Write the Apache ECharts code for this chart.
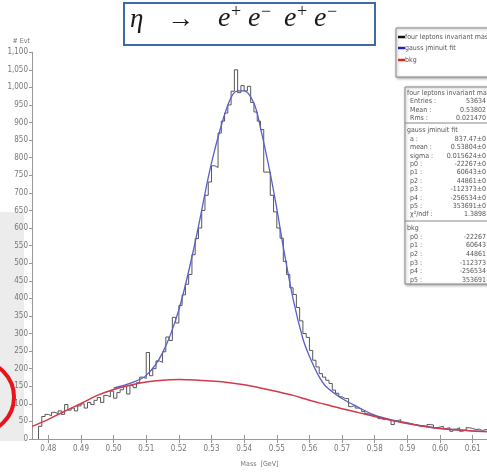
<!DOCTYPE html>
<html>
<head>
<meta charset="utf-8">
<script src="https://cdn.jsdelivr.net/npm/echarts@6/dist/echarts.min.js"></script>
<style>
  html, body { margin: 0; padding: 0; background: #fff; }
  #chart { width: 487px; height: 473px; }
</style>
</head>
<body>
<div id="chart"></div>
<script>
// Four-lepton invariant mass histogram (1 MeV bins) with gauss+pol5 fit and pol5 background
const binStart = 0.477;
const binWidth = 0.001;
const counts = [
  36, 64, 70, 66, 76, 72, 80, 70, 98, 82,
  88, 80, 94, 100, 88, 104, 98, 110, 118, 104,
  124, 120, 136, 116, 132, 140, 150, 128, 152, 146,
  160, 176, 172, 246, 180, 200, 222, 218, 248, 290,
  280, 346, 330, 380, 410, 440, 468, 524, 570, 600,
  650, 693, 731, 777, 772, 870, 904, 927, 950, 989,
  1050, 985, 1005, 990, 1003, 957, 930, 904, 880, 759,
  759, 693, 646, 600, 571, 505, 468, 430, 411, 374,
  336, 300, 289, 252, 224, 205, 186, 176, 167, 158,
  139, 130, 120, 115, 115, 92, 96, 88, 85, 78,
  72, 69, 66, 64, 58, 55, 56, 54, 41, 52,
  55, 48, 46, 44, 41, 40, 36, 38, 34, 41,
  40, 32, 34, 36, 30, 32, 22, 28, 32, 22,
  26, 32, 30, 27, 28, 24, 27, 26
];

// Signal + background fit curve
const fitMass = [0.500, 0.505, 0.510, 0.515, 0.520, 0.525, 0.530, 0.535, 0.538, 0.540,
                 0.543, 0.545, 0.548, 0.550, 0.552, 0.555, 0.558, 0.560, 0.5625, 0.565,
                 0.570, 0.575, 0.580, 0.585, 0.590, 0.595, 0.600, 0.605, 0.610, 0.615];
const fitValues = [145, 158, 181, 245, 368, 560, 785, 950, 990, 990,
                   955, 885, 755, 655, 545, 398, 285, 235, 185, 150,
                   115, 90, 68, 55, 45, 37, 30, 26, 23, 21];

// Background-only curve
const bkgMass = [0.475, 0.480, 0.485, 0.490, 0.495, 0.500, 0.505, 0.510, 0.515, 0.520,
                 0.525, 0.530, 0.535, 0.540, 0.545, 0.550, 0.555, 0.560, 0.565, 0.570,
                 0.575, 0.580, 0.585, 0.590, 0.595, 0.600, 0.605, 0.610, 0.615];
const bkgValues = [36, 56, 79, 101, 124, 141, 153, 162, 167, 169,
                   168, 165, 161, 154, 145, 135, 124, 110, 98, 86,
                   75, 64, 53, 44, 36, 30, 26, 23, 21];

const xTicks = [0.48, 0.49, 0.50, 0.51, 0.52, 0.53, 0.54, 0.55, 0.56, 0.57, 0.58, 0.59, 0.60, 0.61];

const histData = [[binStart, 0]];
counts.forEach((c, i) => histData.push([binStart + i * binWidth, c]));
histData.push([binStart + counts.length * binWidth, counts[counts.length - 1]]);

const axisFont = "'Liberation Sans Narrow', 'DejaVu Sans Condensed', 'Liberation Sans', sans-serif";
const labelStyle = { color: '#777', fontSize: 8, fontFamily: axisFont };

const chart = echarts.init(document.getElementById('chart'), null, { renderer: 'canvas' });

const statRows = [
  ['Entries :', '53634'], ['Mean :', '0.53802'], ['Rms :', '0.021470']
];
const fitRows = [
  ['a :', '837.47±0'], ['mean :', '0.53804±0'], ['sigma :', '0.015624±0'],
  ['p0 :', '-22267±0'], ['p1 :', '60643±0'], ['p2 :', '44861±0'],
  ['p3 :', '-112373±0'], ['p4 :', '-256534±0'], ['p5 :', '353691±0'],
  ['χ²/ndf :', '1.3898']
];
const bkgRows = [
  ['p0 :', '-22267'], ['p1 :', '60643'], ['p2 :', '44861'],
  ['p3 :', '-112373'], ['p4 :', '-256534'], ['p5 :', '353691']
];

const boxFont = { fontSize: 7, fontFamily: axisFont, fill: '#555' };
const graphics = [];

// side panel and circle marker at the left edge
graphics.push({ type: 'rect', shape: { x: 0, y: 212, width: 24, height: 229 }, style: { fill: '#ececec' }, z: -10 });
graphics.push({ type: 'circle', shape: { cx: -22, cy: 397, r: 36 }, style: { fill: 'none', stroke: '#e8141c', lineWidth: 4 }, z: 10 });

// title box
graphics.push({ type: 'rect', shape: { x: 124, y: 3, width: 251, height: 42 }, style: { fill: '#fff', stroke: '#3f69a8', lineWidth: 2 } });
const serif = "'Liberation Serif', 'DejaVu Serif', serif";
const titleParts = [
  ['η', 130, 33, 27, 'italic'], ['→', 167, 33, 27, 'normal'],
  ['e', 218, 33, 28, 'italic'], ['+', 231, 21, 18, 'normal'],
  ['e', 248, 33, 28, 'italic'], ['−', 261, 21, 18, 'normal'],
  ['e', 284, 33, 28, 'italic'], ['+', 297, 21, 18, 'normal'],
  ['e', 314, 33, 28, 'italic'], ['−', 327, 21, 18, 'normal']
];
titleParts.forEach(([t, x, y, s, st]) => {
  graphics.push({ type: 'text', x: x, y: y, style: { text: t, fontSize: s, fontStyle: st, fontFamily: serif, fill: '#1a1a1a', textVerticalAlign: 'bottom' } });
});

// legend box
graphics.push({ type: 'rect', shape: { x: 396, y: 28, width: 100, height: 49 }, style: { fill: '#fff', stroke: '#888', lineWidth: 1, shadowBlur: 3, shadowColor: 'rgba(0,0,0,0.35)', shadowOffsetX: 1, shadowOffsetY: 1 } });
[['four leptons invariant mass: S+B', '#111', 37], ['gauss jminuit fit', '#2222cc', 48], ['bkg', '#dd2222', 60]].forEach(([t, c, y]) => {
  graphics.push({ type: 'line', shape: { x1: 398, y1: y, x2: 405, y2: y }, style: { stroke: c, lineWidth: 2.5 } });
  graphics.push({ type: 'text', x: 405, y: y, style: Object.assign({ text: t, textVerticalAlign: 'middle' }, boxFont) });
});

// statistics box
graphics.push({ type: 'rect', shape: { x: 405, y: 87, width: 100, height: 197 }, style: { fill: '#fff', stroke: '#888', lineWidth: 1, shadowBlur: 3, shadowColor: 'rgba(0,0,0,0.35)', shadowOffsetX: 1, shadowOffsetY: 1 } });
graphics.push({ type: 'line', shape: { x1: 405, y1: 123, x2: 487, y2: 123 }, style: { stroke: '#888', lineWidth: 1 } });
graphics.push({ type: 'line', shape: { x1: 405, y1: 221, x2: 487, y2: 221 }, style: { stroke: '#888', lineWidth: 1 } });
function addRows(header, hy, rows, y0, dy) {
  graphics.push({ type: 'text', x: 407, y: hy, style: Object.assign({ text: header, textVerticalAlign: 'middle' }, boxFont) });
  rows.forEach(([k, v], i) => {
    const y = y0 + i * dy;
    graphics.push({ type: 'text', x: 410, y: y, style: Object.assign({ text: k, textVerticalAlign: 'middle' }, boxFont) });
    graphics.push({ type: 'text', x: 486, y: y, style: Object.assign({ text: v, textVerticalAlign: 'middle', textAlign: 'right' }, boxFont) });
  });
}
addRows('four leptons invariant mass: S+B', 93, statRows, 101.5, 8.3);
addRows('gauss jminuit fit', 130, fitRows, 139, 8.4);
addRows('bkg', 228, bkgRows, 237, 8.6);

chart.setOption({
  animation: false,
  backgroundColor: '#fff',
  grid: { left: 32, right: 0, top: 52.2, bottom: 30.3, containLabel: false },
  xAxis: [{
    type: 'value', min: 0.475, max: 0.6144,
    name: 'Mass  [GeV]', nameLocation: 'middle', nameGap: 22,
    nameTextStyle: { color: '#777', fontSize: 7, fontFamily: axisFont },
    axisLine: { lineStyle: { color: '#999', width: 1 } },
    axisTick: { customValues: xTicks, length: 4, lineStyle: { color: '#999' } },
    axisLabel: Object.assign({ customValues: xTicks, margin: 6, formatter: v => v.toFixed(2) }, labelStyle),
    splitLine: { show: false }
  }, {
    type: 'value', min: 0.475, max: 0.6144, position: 'bottom',
    axisLine: { show: false },
    axisTick: { inside: true, customValues: xTicks, length: 4, lineStyle: { color: '#999' } },
    axisLabel: { show: false },
    splitLine: { show: false }
  }],
  yAxis: {
    type: 'value', min: 0, max: 1100, interval: 50,
    name: '# Evt', nameLocation: 'end', nameGap: 8,
    nameTextStyle: { color: '#777', fontSize: 7, fontFamily: axisFont, align: 'right', padding: [0, 2, 0, 0] },
    axisLine: { show: true, lineStyle: { color: '#999', width: 1 } },
    axisTick: { show: true, length: 3, lineStyle: { color: '#999' } },
    axisLabel: Object.assign({ margin: 4, formatter: v => v.toLocaleString('en-US') }, labelStyle),
    splitLine: { show: false }
  },
  series: [{
    type: 'line', step: 'end', data: histData, symbol: 'none',
    lineStyle: { color: '#444', width: 0.9 }, z: 2
  }, {
    type: 'line', smooth: 0.35, symbol: 'none',
    data: fitMass.map((m, i) => [m, fitValues[i]]),
    lineStyle: { color: '#5a5ec8', width: 1.3 }, z: 3
  }, {
    type: 'line', smooth: 0.35, symbol: 'none',
    data: bkgMass.map((m, i) => [m, bkgValues[i]]),
    lineStyle: { color: '#d23a4c', width: 1.5 }, z: 4
  }],
  graphic: graphics
});
</script>
</body>
</html>
